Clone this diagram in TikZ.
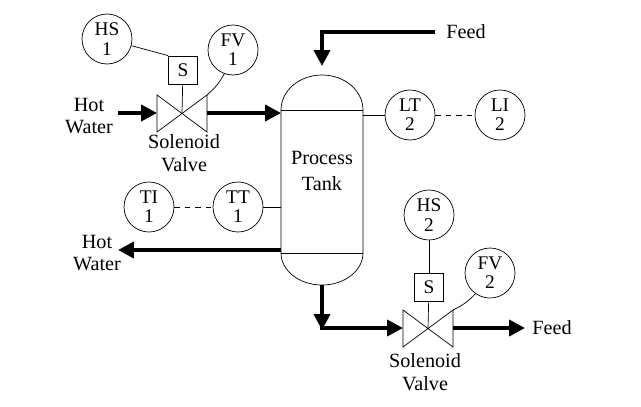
\documentclass[tikz,border=0pt]{standalone}
\usepackage{fontspec}
\setmainfont{Liberation Serif}
\usetikzlibrary{arrows.meta}
\begin{document}
\begin{tikzpicture}[x=0.02cm,y=-0.02cm,
    inst/.style={draw,circle,minimum size=50*0.02cm,inner sep=0pt,align=center,
      font=\fontsize{11}{11}\selectfont},
    sbox/.style={draw,minimum width=29*0.02cm,minimum height=28*0.02cm,inner sep=0pt,
      font=\fontsize{11}{11}\selectfont},
    lbl/.style={align=center,font=\fontsize{11.5}{13}\selectfont},
    pipe/.style={line width=2.2pt,-{Triangle[length=9pt,width=9pt]}},
    sig/.style={thin}]
  \useasboundingbox (0,0) rectangle (641,406);

  % tank
  \draw (281,110) -- (281,253) arc[start angle=180,end angle=0,x radius=41,y radius=32]
    -- (363,110) arc[start angle=0,end angle=-180,x radius=41,y radius=35] -- cycle;
  \draw (281,110) -- (363,110) (281,253) -- (363,253);
  \node[lbl] (tank) at (322,171) {Process\\[2pt]Tank};

  % valve 1
  \coordinate (v1) at (182,113);
  \draw (157,95) -- (207,132) -- (207,95) -- (157,132) -- cycle;
  \node[sbox] (s1) at (183,70) {S};
  \node[inst] (hs1) at (107,39) {HS\\1};
  \node[inst] (fv1) at (233,50) {FV\\1};
  \draw[sig] (s1) -- (v1);
  \draw[sig] (hs1) -- (s1.north west);
  \draw[sig] (fv1) to[bend left=10] (207,95);
  \node[lbl] (hw1) at (89,116) {Hot\\Water};
  \node[lbl] (sv1) at (184,153) {Solenoid\\Valve};
  \coordinate (hwin) at (118,113);
  \draw[pipe] (hwin) -- (157,113);
  \draw[pipe] (207,113) -- (281,113);

  % feed in
  \node[lbl] (feed1) at (466,32) {Feed};
  \draw[pipe] (435,32) -| (322,66);

  % level
  \node[inst] (lt2) at (410,115) {LT\\2};
  \node[inst] (li2) at (500,115) {LI\\2};
  \draw[sig] (363,115) -- (lt2);
  \draw[sig,dashed] (lt2) -- (li2);

  % temperature
  \node[inst] (ti1) at (149,207) {TI\\1};
  \node[inst] (tt1) at (238,207) {TT\\1};
  \draw[sig,dashed] (ti1) -- (tt1);
  \draw[sig] (tt1) -- (281,207);

  % hot water out
  \node[lbl] (hw2) at (97,253) {Hot\\Water};
  \coordinate (hwout) at (118,250);
  \draw[pipe] (281,250) -- (hwout);

  % outlet
  \coordinate (drain) at (322,330);
  \draw[pipe] (322,285) -- (drain);
  \draw[pipe,-{Triangle[length=9pt,width=9pt]}] (320,328) -- (403,328);
  \coordinate (v2) at (428,328);
  \draw (403,310) -- (453,347) -- (453,310) -- (403,347) -- cycle;
  \node[sbox] (s2) at (429,287) {S};
  \node[inst] (hs2) at (429,215) {HS\\2};
  \node[inst] (fv2) at (490,273) {FV\\2};
  \draw[sig] (hs2) -- (s2);
  \draw[sig] (s2) -- (v2);
  \draw[sig] (fv2) to[bend left=10] (453,310);
  \draw[pipe] (453,328) -- (525,328);
  \node[lbl] (feed2) at (552,328) {Feed};
  \node[lbl] (sv2) at (425,372) {Solenoid\\Valve};
\end{tikzpicture}
\end{document}
